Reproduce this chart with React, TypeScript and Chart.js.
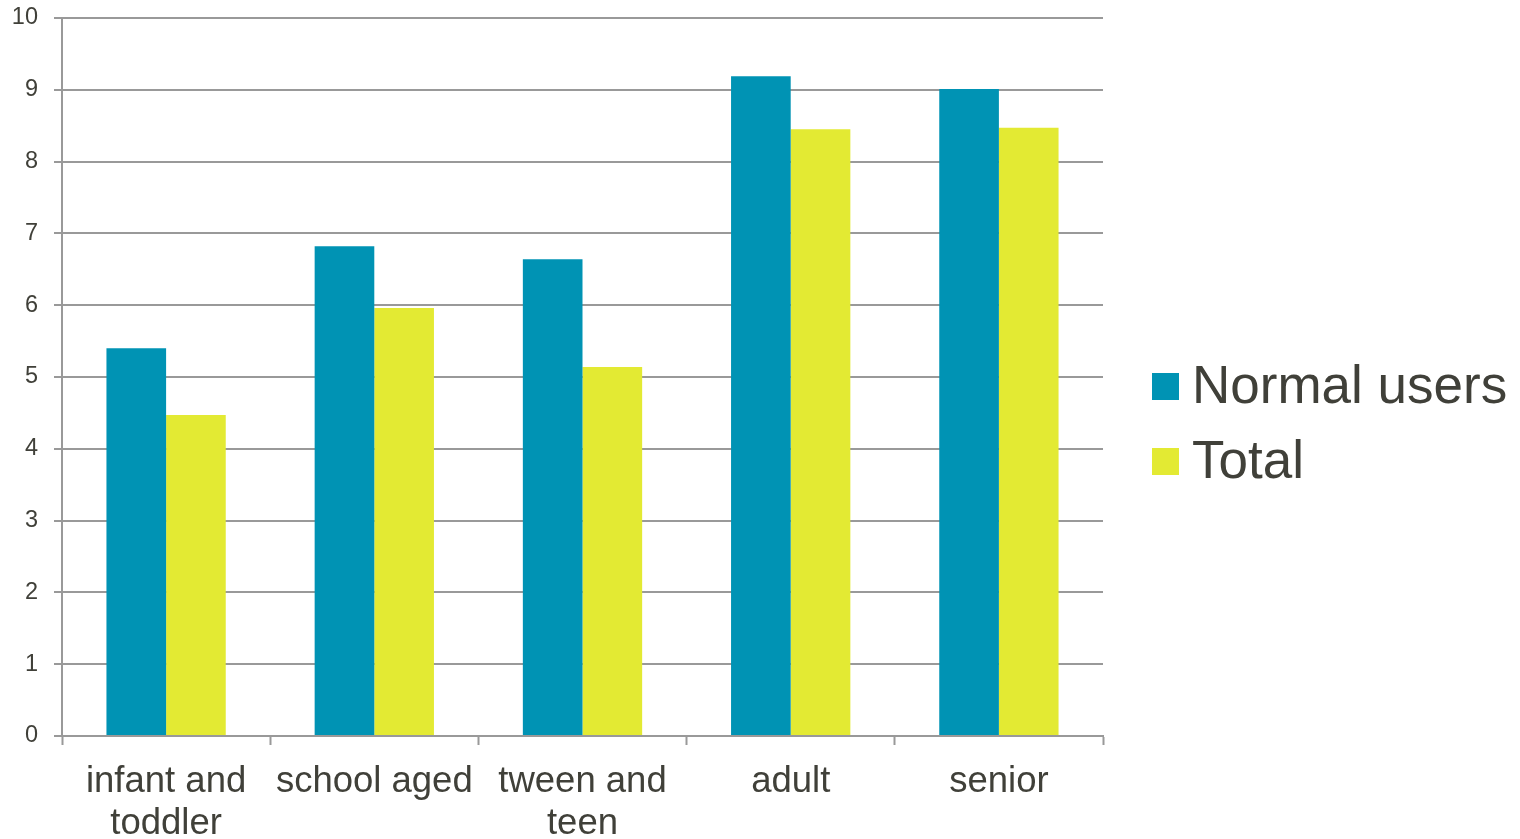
import React, { useEffect, useRef } from "react";
import { Chart, registerables } from "chart.js";

Chart.register(...registerables);

const categories: (string | string[])[] = [
  ["infant and", "toddler"],
  "school aged",
  ["tween and", "teen"],
  "adult",
  "senior",
];
const normalUsers = [5.4, 6.82, 6.64, 9.19, 9.01];
const totals = [4.47, 5.96, 5.14, 8.45, 8.47];
const seriesNames = ["Normal users", "Total"];
const seriesColors = ["#0093B4", "#E3EA33"];

const FONT = "'Liberation Sans', Arial, sans-serif";
const TEXT = "#404039";
const GRID = "#999999";

// Legend drawn to the right of the plot area
const sideLegend = {
  id: "sideLegend",
  afterDraw(chart: Chart) {
    const ctx = chart.ctx;
    ctx.save();
    ctx.font = `53px ${FONT}`;
    ctx.textBaseline = "middle";
    ctx.textAlign = "left";
    const rows = [386, 461];
    chart.data.datasets.forEach((ds, i) => {
      const y = rows[i];
      ctx.fillStyle = ds.backgroundColor as string;
      ctx.fillRect(1152, y - 13, 27, 27);
      ctx.fillStyle = TEXT;
      ctx.fillText(ds.label as string, 1192, y + 2);
    });
    ctx.restore();
  },
};

export default function App() {
  const ref = useRef<HTMLCanvasElement>(null);

  useEffect(() => {
    if (!ref.current) return;
    const chart = new Chart(ref.current, {
      type: "bar",
      data: {
        labels: categories,
        datasets: [
          {
            label: seriesNames[0],
            data: normalUsers,
            backgroundColor: seriesColors[0],
            categoryPercentage: 0.573,
            barPercentage: 1,
          },
          {
            label: seriesNames[1],
            data: totals,
            backgroundColor: seriesColors[1],
            categoryPercentage: 0.573,
            barPercentage: 1,
          },
        ],
      },
      options: {
        responsive: false,
        animation: false,
        layout: { padding: { top: 18, right: 417, left: 0, bottom: 0 } },
        plugins: {
          legend: { display: false },
          tooltip: { enabled: false },
        },
        scales: {
          x: {
            offset: true,
            grid: {
              offset: true,
              drawOnChartArea: false,
              drawTicks: true,
              tickLength: 9,
              tickColor: GRID,
              tickWidth: 2,
            },
            border: { display: true, color: GRID, width: 2 },
            ticks: {
              color: TEXT,
              padding: 16,
              maxRotation: 0,
              autoSkip: false,
              font: { family: FONT, size: 36.5, lineHeight: 1.15 },
            },
            afterFit(scale: any) {
              scale.height = 839 - 736;
            },
          },
          y: {
            min: 0,
            max: 10,
            ticks: {
              stepSize: 1,
              color: TEXT,
              padding: 16,
              font: { family: FONT, size: 23.5 },
            },
            grid: {
              color: GRID,
              lineWidth: 2,
              drawTicks: true,
              tickLength: 8,
            },
            border: { display: true, color: GRID, width: 2 },
            afterFit(scale: any) {
              scale.width = 62;
              scale.paddingTop = 0;
              scale.paddingBottom = 0;
            },
          },
        },
      },
      plugins: [sideLegend],
    });
    return () => chart.destroy();
  }, []);

  return (
    <div style={{ position: "absolute", left: 0, top: 0, width: 1520, height: 839, background: "#fff" }}>
      <canvas ref={ref} width={1520} height={839} style={{ display: "block" }} />
    </div>
  );
}
